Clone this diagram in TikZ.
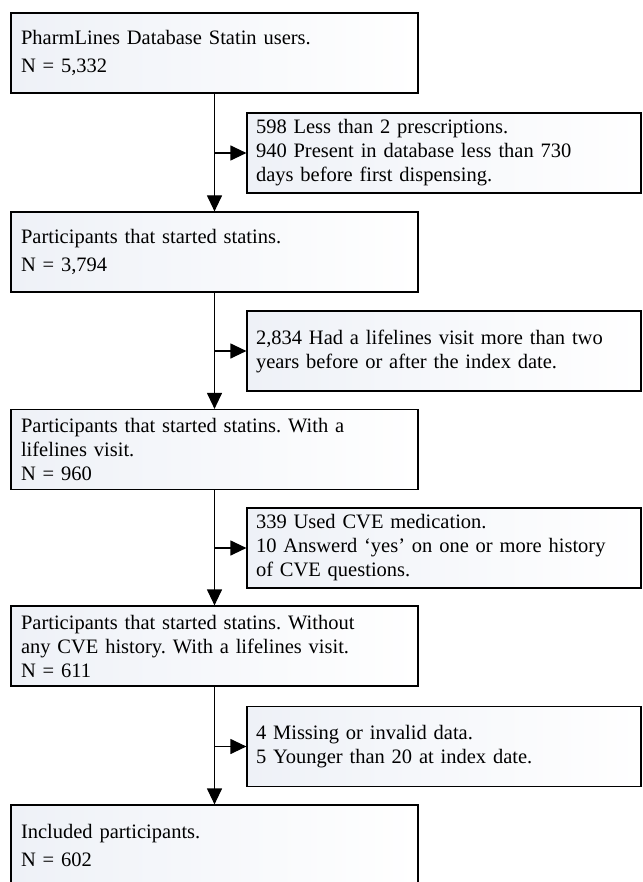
\documentclass[tikz,border=0pt]{standalone}
\usepackage{fontspec}
\setmainfont{Liberation Serif}
\usetikzlibrary{arrows.meta}
\definecolor{boxtint}{RGB}{238,241,247}
\frenchspacing
\begin{document}
\begin{tikzpicture}[x=1pt, y=-1pt, line width=1.2pt,
	every node/.style={rectangle, font=\fontsize{20.5}{24}\selectfont},
	mainbox/.style={draw, left color=boxtint, right color=white, text width=387pt, inner xsep=10pt, minimum height=80pt, align=left},
	sidebox/.style={draw, left color=boxtint, right color=white, text width=376pt, inner xsep=9pt, minimum height=80pt, align=left},
	flow/.style={-{Triangle[length=16pt, width=15pt]}}]
	\useasboundingbox (0,0) rectangle (642,882);
	\node[mainbox] (users) at (214.5, 53) {PharmLines Database Statin users.\\[4pt] N = 5,332};
	\node[sidebox] (exclA) at (444, 153) {598 Less than 2 prescriptions.\\ 940 Present in database less than 730\\ days before first dispensing.};
	\node[mainbox] (started) at (214.5, 252) {Participants that started statins.\\[4pt] N = 3,794};
	\node[sidebox] (exclB) at (444, 351) {2,834 Had a lifelines visit more than two\\ years before or after the index date.};
	\node[mainbox] (visit) at (214.5, 449.5) {Participants that started statins. With a\\ lifelines visit.\\ N = 960};
	\node[sidebox] (exclC) at (444, 548) {339 Used CVE medication.\\ 10 Answerd `yes' on one or more history\\ of CVE questions.};
	\node[mainbox] (nocve) at (214.5, 646) {Participants that started statins. Without\\ any CVE history. With a lifelines visit.\\ N = 611};
	\node[sidebox] (exclD) at (444, 746.5) {4 Missing or invalid data.\\ 5 Younger than 20 at index date.};
	\node[mainbox] (included) at (214.5, 845) {Included participants.\\[4pt] N = 602};
	% main flow
	\draw[flow] (users.south) -- (started.north);
	\draw[flow] (started.south) -- (visit.north);
	\draw[flow] (visit.south) -- (nocve.north);
	\draw[flow] (nocve.south) -- (included.north);
	% exclusions
	\draw[flow] (users.south |- exclA.west) -- (exclA.west);
	\draw[flow] (started.south |- exclB.west) -- (exclB.west);
	\draw[flow] (visit.south |- exclC.west) -- (exclC.west);
	\draw[flow] (nocve.south |- exclD.west) -- (exclD.west);
\end{tikzpicture}
\end{document}
